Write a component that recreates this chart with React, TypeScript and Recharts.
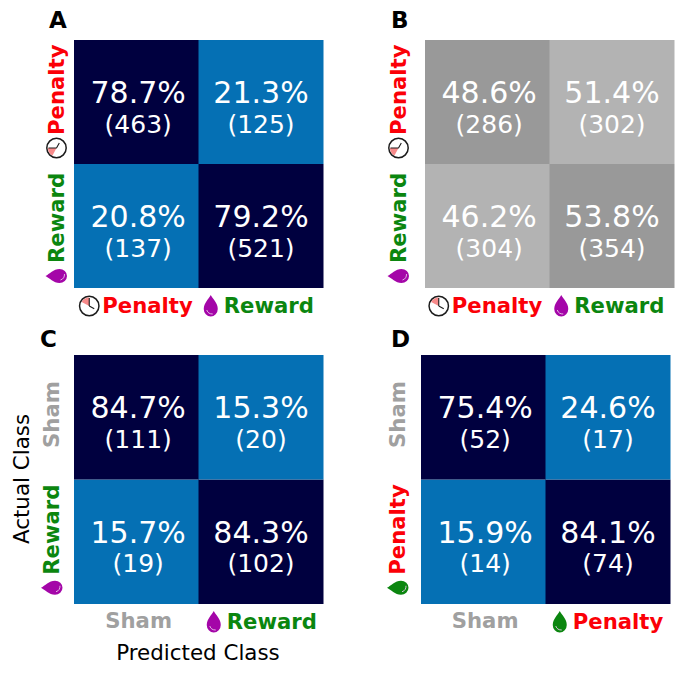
import React from "react";
import { BarChart, Bar, Cell, XAxis, YAxis, LabelList } from "recharts";

const FONT = "'DejaVu Sans', sans-serif";
const rowTicks = [0.5, 1.5];

// ----- data -----
const panelNames = ["A", "B", "C", "D"];
const colLabelsA = ["Penalty", "Reward"];
const rowLabelsA = ["Penalty", "Reward"];
const percentsA = [["78.7%", "21.3%"], ["20.8%", "79.2%"]];
const countsA = [["(463)", "(125)"], ["(137)", "(521)"]];
const colLabelsB = ["Penalty", "Reward"];
const rowLabelsB = ["Penalty", "Reward"];
const percentsB = [["48.6%", "51.4%"], ["46.2%", "53.8%"]];
const countsB = [["(286)", "(302)"], ["(304)", "(354)"]];
const colLabelsC = ["Sham", "Reward"];
const rowLabelsC = ["Sham", "Reward"];
const percentsC = [["84.7%", "15.3%"], ["15.7%", "84.3%"]];
const countsC = [["(111)", "(20)"], ["(19)", "(102)"]];
const colLabelsD = ["Sham", "Penalty"];
const rowLabelsD = ["Sham", "Penalty"];
const percentsD = [["75.4%", "24.6%"], ["15.9%", "84.1%"]];
const countsD = [["(52)", "(17)"], ["(14)", "(74)"]];

// ----- styles -----
const DARK = "#00003f";
const BLUE = "#0570b4";
const GREY_D = "#999999";
const GREY_L = "#b3b3b3";
const RED = "#fb0007";
const GREEN = "#0b860f";
const GREY_T = "#a0a0a0";
const PURPLE = "#a406a8";
const DROP_GREEN = "#0b860f";

const textColor: Record<string, string> = { Penalty: RED, Reward: GREEN, Sham: GREY_T };

function Clock({ cx, cy }: { cx: number; cy: number }) {
  return (
    <g transform={`translate(${cx},${cy})`}>
      <circle r={9.7} fill="#fff" stroke="#1c1c1c" strokeWidth={1.5} />
      <path d="M0 0 L0 -8.6 A8.6 8.6 0 0 0 -7.6 -4 Z" fill="#f78a8a" />
      <path d="M0 0 L0 -8 M0 0 L5 2.8" stroke="#1c1c1c" strokeWidth={1.1} fill="none" />
    </g>
  );
}

function Drop({ cx, cy, color }: { cx: number; cy: number; color: string }) {
  return (
    <g transform={`translate(${cx},${cy})`}>
      <path d="M0 -11 C2 -7 7 -3 7 3 A7 7.5 0 0 1 -7 3 C-7 -3 -2 -7 0 -11 Z" fill={color} />
      <path d="M-4 4 C-3 7 -1 8 2 8" stroke="#e8c8ea" strokeWidth={0.9} fill="none" />
    </g>
  );
}

// Text with its marker: text starts at the origin, the marker sits just before it.
function ClassLabel({ name, icon, iconX }: { name: string; icon: string; iconX: number }) {
  return (
    <g>
      {icon === "clock" && <Clock cx={iconX} cy={-7} />}
      {icon === "purple" && <Drop cx={iconX} cy={-7} color={PURPLE} />}
      {icon === "green" && <Drop cx={iconX} cy={-7} color={DROP_GREEN} />}
      <text x={0} y={0} fontFamily={FONT} fontWeight="bold" fontSize={21.2} fill={textColor[name]}>
        {name}
      </text>
    </g>
  );
}

type Panel = {
  cols: string[];
  rows: string[];
  percents: string[][];
  counts: string[][];
  colors: string[][];
  icons: Record<string, string>;
  box: { left: number; top: number; width: number; height: number };
  margin: { left: number; top: number; right: number; bottom: number };
  colStart: number[];
  colBase: number[];
  rowStart: number[];
  rowBase: number[];
  nudge: number;
};

const blue = [[DARK, BLUE], [BLUE, DARK]];
const grey = [[GREY_D, GREY_L], [GREY_L, GREY_D]];

const panels: Panel[] = [
  {
    cols: colLabelsA, rows: rowLabelsA, percents: percentsA, counts: countsA, colors: blue,
    icons: { Penalty: "clock", Reward: "purple" },
    box: { left: 0, top: 0, width: 342, height: 336 },
    margin: { left: 74, top: 40, right: 19, bottom: 48 },
    colStart: [-34, -37], colBase: [25, 25], rowStart: [33, 37], rowBase: [-10.5, -10.5], nudge: 1.7,
  },
  {
    cols: colLabelsB, rows: rowLabelsB, percents: percentsB, counts: countsB, colors: grey,
    icons: { Penalty: "clock", Reward: "purple" },
    box: { left: 342, top: 0, width: 342, height: 336 },
    margin: { left: 83, top: 40, right: 10, bottom: 48 },
    colStart: [-35.5, -37.5], colBase: [25, 25], rowStart: [33, 37], rowBase: [-19.5, -19.5], nudge: 1.7,
  },
  {
    cols: colLabelsC, rows: rowLabelsC, percents: percentsC, counts: countsC, colors: blue,
    icons: { Reward: "purple" },
    box: { left: 0, top: 336, width: 342, height: 337 },
    margin: { left: 74, top: 19, right: 19, bottom: 69 },
    colStart: [-31, -34], colBase: [24, 25], rowStart: [30.7, 33], rowBase: [-15, -15], nudge: 1.7,
  },
  {
    cols: colLabelsD, rows: rowLabelsD, percents: percentsD, counts: countsD, colors: blue,
    icons: { Penalty: "green" },
    box: { left: 342, top: 336, width: 342, height: 337 },
    margin: { left: 79, top: 19, right: 14, bottom: 69 },
    colStart: [-31.5, -35], colBase: [24, 25], rowStart: [30.7, 33], rowBase: [-16, -16], nudge: 1.7,
  },
];

function cellLabel(p: Panel, row: number) {
  return (props: any) => {
    const { x, y, width, index } = props;
    const cx = x + width / 2 + (index === 0 ? p.nudge : 0);
    return (
      <g>
        <text x={cx} y={y + 63} textAnchor="middle" fontFamily={FONT} fontSize={30} fill="#fff">
          {p.percents[row][index]}
        </text>
        <text x={cx} y={y + 92.7} textAnchor="middle" fontFamily={FONT} fontSize={25} fill="#fff">
          {p.counts[row][index]}
        </text>
      </g>
    );
  };
}

function HeatPanel({ p }: { p: Panel }) {
  const data = p.cols.map((c) => ({ name: c, upper: 1, lower: 1 }));
  const XTick = (t: any) => {
    const name = p.cols[t.index];
    return (
      <g transform={`translate(${t.x + p.colStart[t.index]},${p.box.height - p.margin.bottom + p.colBase[t.index]})`}>
        <ClassLabel name={name} icon={p.icons[name] ?? ""} iconX={-13} />
      </g>
    );
  };
  const YTick = (t: any) => {
    // the lower row sits at 0.5 on the numeric axis, the upper row at 1.5
    const rowIdx = t.payload.value < 1 ? 1 : 0;
    const name = p.rows[rowIdx];
    return (
      <g transform={`translate(${p.margin.left + p.rowBase[rowIdx]},${t.y + p.rowStart[rowIdx]}) rotate(-90)`}>
        <ClassLabel name={name} icon={p.icons[name] ?? ""} iconX={-13} />
      </g>
    );
  };
  const m = { ...p.margin, left: p.margin.left - 1, bottom: p.margin.bottom - 1 };
  return (
    <div style={{ position: "absolute", ...p.box }}>
      <BarChart
        width={p.box.width}
        height={p.box.height}
        data={data}
        margin={m}
        barCategoryGap={0}
        barGap={0}
      >
        <XAxis dataKey="name" height={1} axisLine={false} tickLine={false} tick={XTick} interval={0} />
        <YAxis type="number" domain={[0, 2]} ticks={rowTicks} width={1} axisLine={false} tickLine={false} tick={YTick} interval={0} />
        <Bar dataKey="lower" stackId="s" isAnimationActive={false}>
          {data.map((_, i) => (
            <Cell key={i} fill={p.colors[1][i]} />
          ))}
          <LabelList dataKey="lower" content={cellLabel(p, 1)} />
        </Bar>
        <Bar dataKey="upper" stackId="s" isAnimationActive={false}>
          {data.map((_, i) => (
            <Cell key={i} fill={p.colors[0][i]} />
          ))}
          <LabelList dataKey="upper" content={cellLabel(p, 0)} />
        </Bar>
      </BarChart>
    </div>
  );
}

const letterPos = [
  [49, 28],
  [391, 28],
  [40, 347],
  [391, 347],
];

export default function App() {
  return (
    <div style={{ position: "absolute", left: 0, top: 0, width: 684, height: 673, background: "#fff", overflow: "hidden" }}>
      {panels.map((p, i) => (
        <HeatPanel key={i} p={p} />
      ))}
      <svg width={684} height={673} style={{ position: "absolute", left: 0, top: 0, pointerEvents: "none" }}>
        {panelNames.map((n, i) => (
          <text key={n} x={letterPos[i][0]} y={letterPos[i][1]} fontFamily={FONT} fontWeight="bold" fontSize={23} fill="#000">
            {n}
          </text>
        ))}
        <text x={198} y={660} textAnchor="middle" fontFamily={FONT} fontSize={21.4} fill="#000">
          Predicted Class
        </text>
        <text transform="translate(29,479) rotate(-90)" textAnchor="middle" fontFamily={FONT} fontSize={21.4} fill="#000">
          Actual Class
        </text>
      </svg>
    </div>
  );
}
